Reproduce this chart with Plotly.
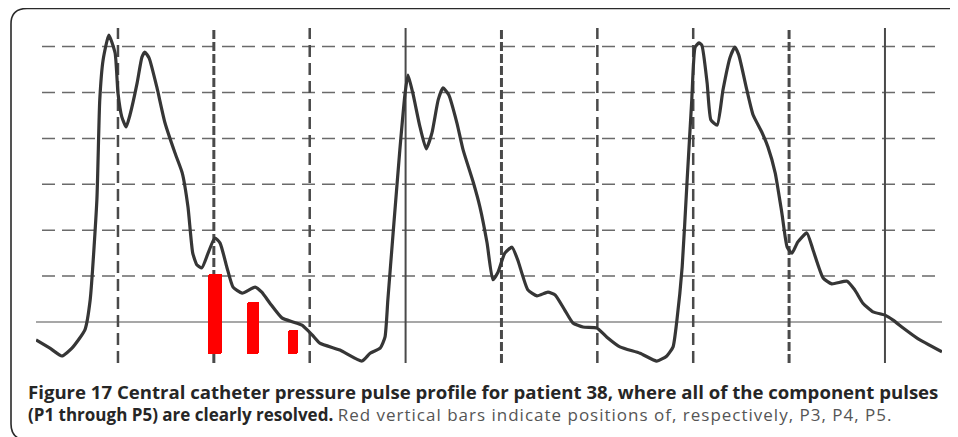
import plotly.graph_objects as go

# pressure pulse: time in s, pressure relative to the baseline
beat1_t = [0.029, 0.058, 0.083, 0.104, 0.131, 0.142, 0.156, 0.162, 0.169, 0.181,
           0.194, 0.200, 0.208, 0.217, 0.225, 0.240, 0.250, 0.256, 0.265, 0.281,
           0.298, 0.319, 0.334, 0.346, 0.356, 0.365, 0.375, 0.388, 0.402, 0.413,
           0.427, 0.440, 0.459, 0.486, 0.500, 0.517, 0.542, 0.565, 0.584, 0.605, 0.621]
beat1_p = [-3.9, -5.7, -7.4, -5.7, -1.7, 4.8, 26.6, 48.4, 57.1, 62.5,
           58.6, 49.9, 44.7, 42.5, 45.1, 52.1, 57.7, 58.8, 57.5, 51.2,
           43.4, 36.8, 32.5, 25.1, 15.0, 12.4, 11.8, 15.0, 18.3, 17.2,
           12.0, 7.6, 6.3, 7.6, 6.5, 4.1, 0.9, 0.0, -0.7, -2.8, -4.6]

beat2_t = [0.663, 0.709, 0.726, 0.747, 0.757, 0.763, 0.774, 0.788, 0.799, 0.805,
           0.815, 0.830, 0.843, 0.855, 0.868, 0.878, 0.890, 0.907, 0.920, 0.941,
           0.955, 0.970, 0.982, 0.993, 1.007, 1.022, 1.034, 1.055, 1.074, 1.097,
           1.112, 1.132, 1.149, 1.170, 1.199, 1.220, 1.247, 1.289]
beat2_p = [-6.1, -8.5, -6.8, -5.7, -3.3, 4.8, 19.4, 37.5, 49.9, 53.8,
           49.9, 42.5, 37.7, 41.2, 48.4, 51.0, 49.5, 43.4, 37.5, 30.5,
           25.1, 17.2, 9.2, 10.9, 15.0, 16.3, 13.5, 7.0, 5.7, 6.5,
           5.9, 2.6, -0.2, -1.1, -1.3, -3.3, -5.4, -6.8]

beat3_t = [1.324, 1.345, 1.358, 1.366, 1.377, 1.387, 1.397, 1.404, 1.412, 1.418,
           1.429, 1.437, 1.450, 1.462, 1.477, 1.487, 1.495, 1.512, 1.525, 1.543,
           1.556, 1.571, 1.585, 1.596, 1.606, 1.618, 1.637, 1.650, 1.671, 1.689,
           1.721, 1.737, 1.754, 1.775, 1.800, 1.817, 1.838, 1.867, 1.919]
beat3_p = [-8.5, -7.4, -5.4, 0.4, 12.0, 30.3, 48.4, 59.9, 60.8, 60.3,
           52.1, 44.0, 42.9, 50.5, 57.7, 59.9, 58.2, 50.5, 45.1, 41.4,
           38.1, 32.5, 23.7, 16.3, 15.0, 17.4, 19.4, 15.7, 9.6, 8.3,
           8.9, 7.0, 4.1, 2.2, 1.5, 0.4, -1.3, -3.5, -6.5]

# red bars marking P3, P4, P5
bar_names = ['P3', 'P4', 'P5']
bar_t = [0.402, 0.481, 0.565]
bar_base = [-7.0, -7.0, -7.0]
bar_top = [10.5, 4.4, -1.7]
bar_w = [0.029, 0.025, 0.021]

# grid of the recording paper
vgrid_t = [0.2, 0.4, 0.6, 0.8, 1.0, 1.2, 1.4, 1.6, 1.8]
vgrid_kind = ['dash', 'dense', 'dash', 'solid', 'dense', 'dash', 'dash', 'dense', 'solid']
hgrid_p = [10, 20, 30, 40, 50, 60]
baseline_p = 0

caption1 = 'Figure 17 Central catheter pressure pulse profile for patient 38, where all of the component pulses'
caption2_bold = '(P1 through P5) are clearly resolved.'
caption2_rest = 'Red vertical bars indicate positions of, respectively, P3, P4, P5.'

# the page body has an 8px margin, so the figure starts at (8, 8) in the window
OFF = 8
W, H = 950, 429
ML, MR, MT, MB = 28, 16, 20, 74
XR = [0.029, 1.919]
YR = [-8.93, 64.05]


# window pixel -> paper coordinate
def px2x(px):
    return (px - OFF - ML) / (W - ML - MR)


def py2y(py):
    return (H - MB - (py - OFF)) / (H - MT - MB)


fig = go.Figure()

fig.add_trace(go.Bar(
    x=bar_t, y=[t - b for t, b in zip(bar_top, bar_base)], base=bar_base,
    width=bar_w, marker=dict(color='#ff0000', cornerradius=2, line=dict(width=0)),
    text=bar_names, textposition='none', showlegend=False, hoverinfo='text'
))

fig.add_trace(go.Scatter(
    x=beat1_t + beat2_t + beat3_t, y=beat1_p + beat2_p + beat3_p,
    mode='lines', line=dict(color='#363636', width=3.2, shape='spline', smoothing=0.5),
    showlegend=False
))

shapes = []
for p in hgrid_p:
    shapes.append(dict(type='line', xref='paper', yref='y', x0=px2x(42), x1=1, y0=p, y1=p,
                       line=dict(color='#6a6a6a', width=1.5, dash='13px,7px'), layer='below'))
shapes.append(dict(type='line', xref='paper', yref='y', x0=0, x1=1, y0=baseline_p, y1=baseline_p,
                   line=dict(color='#8a8a8a', width=1.5), layer='below'))
for t, kind in zip(vgrid_t, vgrid_kind):
    if kind == 'solid':
        ln = dict(color='#4a4a4a', width=2)
    elif kind == 'dense':
        ln = dict(color='#4a4a4a', width=3, dash='9px,3px')
    else:
        ln = dict(color='#4a4a4a', width=2.5, dash='12px,6px')
    shapes.append(dict(type='line', xref='x', yref='paper', x0=t, x1=t, y0=0, y1=1,
                       line=ln, layer='below'))

# rounded frame round the figure (open on the right)
bx0, by0 = px2x(11), py2y(8.5)
path = (f'M {px2x(960)},{by0} L {px2x(27)},{by0} Q {bx0},{by0} {bx0},{py2y(24)} '
        f'L {bx0},{py2y(424)} Q {bx0},{py2y(434)} {px2x(18)},{py2y(438)}')
shapes.append(dict(type='path', xref='paper', yref='paper', path=path,
                   line=dict(color='#2a2a2a', width=1.6)))

caption = (f'<span style="font-size:18.6px"><b>{caption1}</b></span><br>'
           f'<b>{caption2_bold}</b> '
           f'<span style="color:#555555;letter-spacing:1px">{caption2_rest}</span>')

fig.update_layout(
    width=W, height=H,
    margin=dict(l=ML, r=MR, t=MT, b=MB),
    paper_bgcolor='white', plot_bgcolor='white',
    xaxis=dict(range=XR, visible=False, fixedrange=True),
    yaxis=dict(range=YR, visible=False, fixedrange=True),
    shapes=shapes, bargap=0,
    annotations=[
        dict(text=caption, xref='paper', yref='paper', x=px2x(26), y=py2y(403),
             xanchor='left', yanchor='middle', align='left', showarrow=False,
             font=dict(family='Open Sans', size=17, color='#262626')),
    ],
)

fig.write_html('out.html')
